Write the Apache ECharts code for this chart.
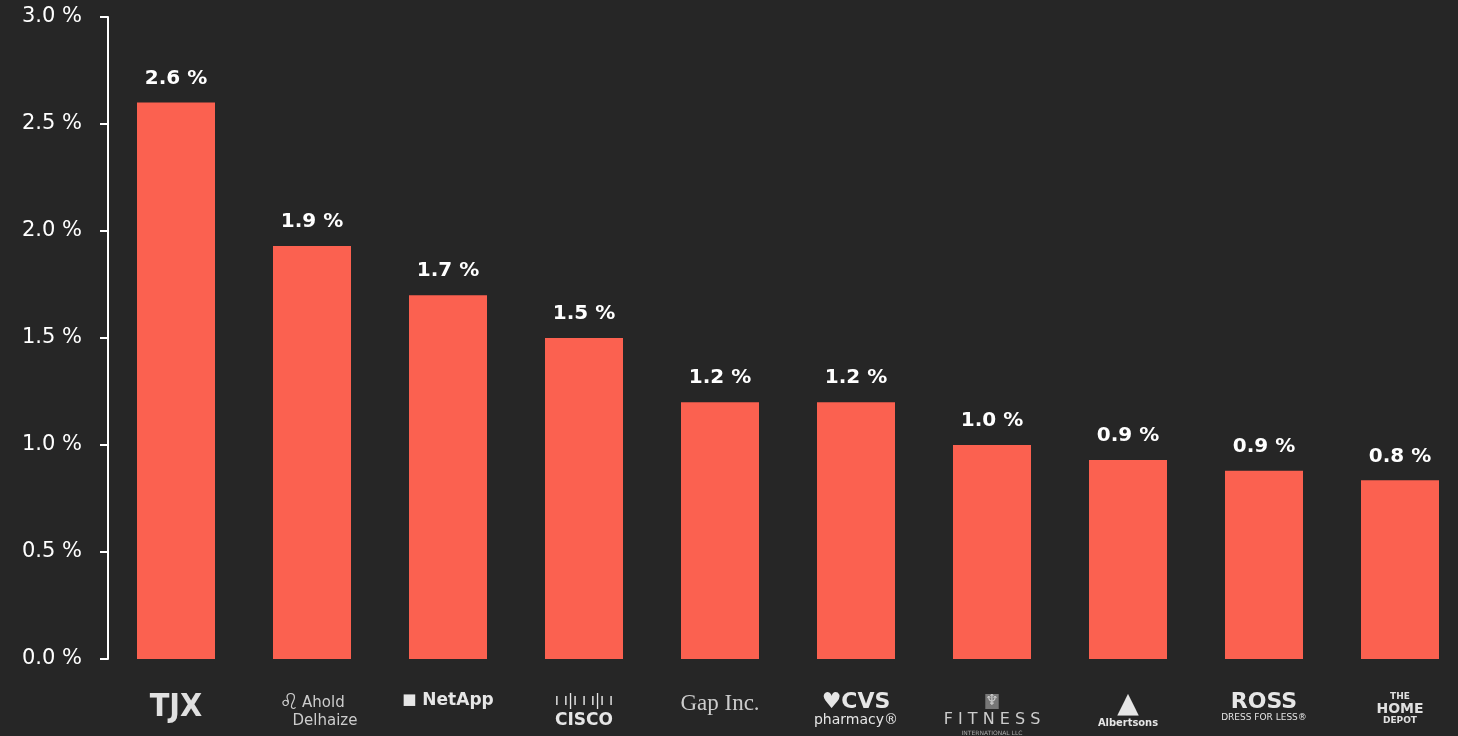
<!DOCTYPE html>
<html>
<head>
<meta charset="utf-8">
<script src="https://cdn.jsdelivr.net/npm/echarts@6/dist/echarts.min.js"></script>
<style>
  html, body { margin: 0; padding: 0; background: #262626; overflow: hidden; width: 1458px; height: 736px; }
  #wrap { position: absolute; left: 0; top: 0; width: 1458px; height: 736px; overflow: hidden; }
  #chart { width: 1468px; height: 736px; }
</style>
</head>
<body>
<div id="wrap"><div id="chart"></div></div>
<script>
const companies = ['TJX', 'Ahold Delhaize', 'NetApp', 'Cisco', 'Gap Inc.', 'CVS Pharmacy', 'Fitness International', 'Albertsons', 'Ross', 'The Home Depot'];
const shares = [2.6, 1.93, 1.70, 1.50, 1.20, 1.20, 1.00, 0.93, 0.88, 0.835];
const yTicks = [0, 0.5, 1.0, 1.5, 2.0, 2.5, 3.0];

const logoText = {
  'TJX': '{tjx|TJX}',
  'Ahold Delhaize': '{ahi|♌}{ah|Ahold}\n{ahs| }{ah|Delhaize}',
  'NetApp': '{nai|■}{na| NetApp}',
  'Cisco': '{cib|ı ı|ı ı ı|ı ı}\n{ci|CISCO}',
  'Gap Inc.': '{gap|Gap Inc.}',
  'CVS Pharmacy': '{cvs|♥CVS}\n{cvp|pharmacy®}',
  'Fitness International': '{fii|♆}\n{fi|F I T N E S S}\n{fis|INTERNATIONAL LLC}',
  'Albertsons': '{ali|▲}\n{al|Albertsons}',
  'Ross': '{ro|ROSS}\n{ros|DRESS FOR LESS®}',
  'The Home Depot': '{hd|THE}\n{hdb|HOME}\n{hd|DEPOT}'
};

const chart = echarts.init(document.getElementById('chart'));
const font = 'DejaVu Sans';
chart.setOption({
  backgroundColor: '#262626',
  animation: false,
  grid: { left: 108, right: 0, top: 17, bottom: 72, containLabel: false },
  xAxis: {
    type: 'category',
    data: companies,
    axisLine: { show: false },
    axisTick: { show: false },
    axisLabel: {
      interval: 0,
      margin: 33,
      color: '#dddddd',
      formatter: function (v) { return logoText[v] || v; },
      rich: {
        tjx: { fontFamily: 'DejaVu Sans Condensed', fontWeight: 'bold', fontSize: 32, color: '#e0e0e0' },
        ahi: { fontFamily: font, fontSize: 22, color: '#cccccc', padding: [0, 3, 0, 0] },
        ahs: { fontSize: 14, width: 26 },
        ah: { fontFamily: font, fontSize: 15, color: '#cccccc', lineHeight: 15 },
        nai: { fontFamily: font, fontSize: 15, color: '#e6e6e6' },
        na: { fontFamily: font, fontWeight: 'bold', fontSize: 17, color: '#e6e6e6' },
        cib: { fontFamily: font, fontSize: 15, color: '#e6e6e6', lineHeight: 19 },
        ci: { fontFamily: font, fontWeight: 'bold', fontSize: 17, color: '#e6e6e6', lineHeight: 19 },
        gap: { fontFamily: 'Liberation Serif', fontSize: 23, color: '#cccccc' },
        cvs: { fontFamily: font, fontWeight: 'bold', fontSize: 22, color: '#e6e6e6', lineHeight: 21 },
        cvp: { fontFamily: font, fontSize: 14, color: '#e6e6e6', lineHeight: 14 },
        fii: { fontFamily: font, fontSize: 15, color: '#cccccc', backgroundColor: '#777777', lineHeight: 19 },
        fi: { fontFamily: font, fontSize: 16, color: '#cccccc', lineHeight: 18 },
        fis: { fontFamily: font, fontSize: 6, color: '#aaaaaa', lineHeight: 8 },
        ali: { fontFamily: font, fontSize: 28, color: '#e6e6e6', lineHeight: 26 },
        al: { fontFamily: 'DejaVu Sans Condensed', fontWeight: 'bold', fontSize: 11, color: '#e6e6e6', lineHeight: 11 },
        ro: { fontFamily: font, fontWeight: 'bold', fontSize: 22, color: '#e6e6e6', lineHeight: 21 },
        ros: { fontFamily: font, fontSize: 9, color: '#e6e6e6', lineHeight: 10 },
        hd: { fontFamily: font, fontWeight: 'bold', fontSize: 9, color: '#e0e0e0', lineHeight: 10 },
        hdb: { fontFamily: font, fontWeight: 'bold', fontSize: 14, color: '#e0e0e0', lineHeight: 14 }
      }
    }
  },
  yAxis: {
    type: 'value',
    min: 0,
    max: 3,
    interval: 0.5,
    splitLine: { show: false },
    axisLine: { show: true, lineStyle: { color: '#ffffff', width: 2 } },
    axisTick: { show: true, length: 8, lineStyle: { color: '#ffffff', width: 2 } },
    axisLabel: {
      margin: 26,
      color: '#ffffff',
      fontFamily: font,
      fontSize: 21,
      formatter: function (v) {
        const t = yTicks.find(function (x) { return Math.abs(x - v) < 1e-9; });
        return (t !== undefined ? t : v).toFixed(1) + ' %';
      }
    }
  },
  series: [{
    type: 'bar',
    data: shares,
    barWidth: 78,
    itemStyle: { color: '#fb6150' },
    label: {
      show: true,
      position: 'top',
      distance: 14,
      color: '#ffffff',
      fontFamily: font,
      fontWeight: 'bold',
      fontSize: 20,
      formatter: function (p) { return p.value.toFixed(1) + ' %'; }
    }
  }]
});
</script>
</body>
</html>
